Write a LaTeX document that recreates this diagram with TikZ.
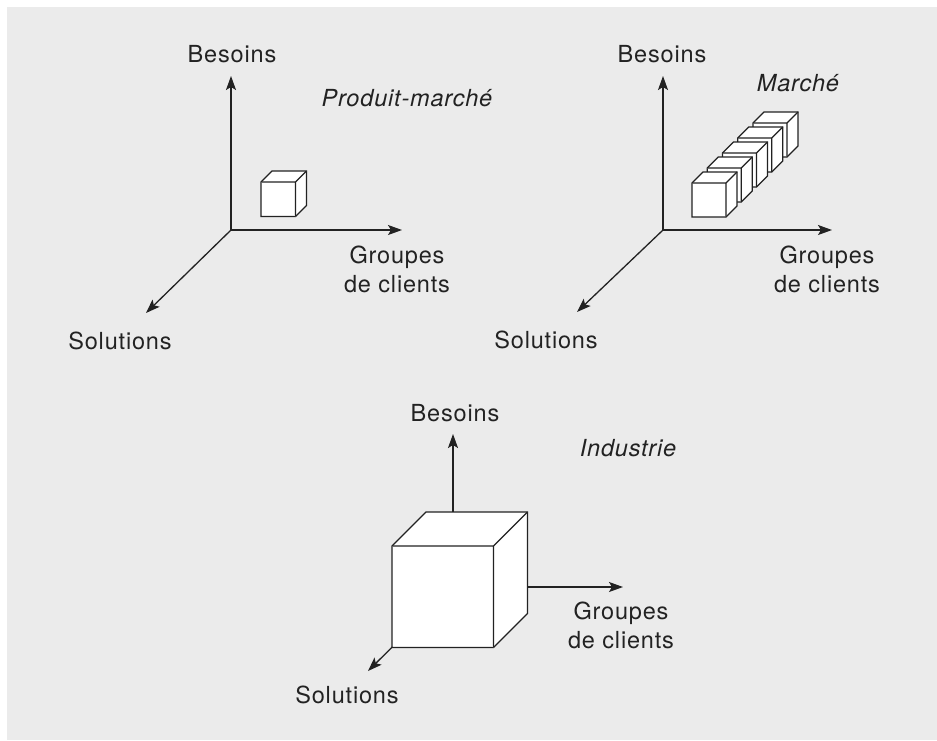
\documentclass[tikz,border=0pt]{standalone}
\usepackage{fontspec}
\setmainfont{TeX Gyre Heros}[LetterSpace=3.5]
\usetikzlibrary{arrows.meta,calc}
\definecolor{bggray}{HTML}{EBEBEB}
\definecolor{ink}{HTML}{222222}
\newcommand{\mycube}[5]{% name, x, y, size, depth
  \coordinate (#1A) at (#2,#3);
  \coordinate (#1B) at ($(#1A)+(#4,0)$);
  \coordinate (#1C) at ($(#1A)+(#4,#4)$);
  \coordinate (#1D) at ($(#1A)+(0,#4)$);
  \coordinate (#1Ab) at ($(#1A)+(#5,-#5)$);
  \coordinate (#1Bb) at ($(#1B)+(#5,-#5)$);
  \coordinate (#1Cb) at ($(#1C)+(#5,-#5)$);
  \filldraw[cubeline] (#1A) -- (#1Ab) -- (#1Bb) -- (#1Cb) -- (#1C) -- (#1D) -- cycle;
  \draw[cubeline] (#1A) -- (#1B) -- (#1C) (#1B) -- (#1Bb);
}
\begin{document}
\begin{tikzpicture}[x=1pt,y=-1pt,
  axis/.style={draw=ink,line width=1.3pt,-{Stealth[length=14pt,width=10pt,inset=3pt]}},
  cubeline/.style={draw=ink,fill=white,line width=1.3pt,line join=miter},
  lab/.style={inner sep=0pt,anchor=base,text=ink,font=\fontsize{23.5}{28.5}\selectfont,align=center},
  ital/.style={lab,font=\fontsize{23.5}{28.5}\selectfont\itshape}]
\useasboundingbox (0,0) rectangle (937,740);
\fill[bggray] (7,7) rectangle (937,740);

% ---------- Panel 1 : Produit-marche ----------
\coordinate (O1) at (231,230);
\coordinate (B1) at (231,76);
\coordinate (G1) at (402,230);
\coordinate (S1) at (146,313);
\draw[axis] (O1) -- (B1);
\draw[axis] (O1) -- (G1);
\draw[axis] (O1) -- (S1);
\mycube{pa}{261}{182}{34.5}{11}
\node[lab] (lb1) at (232,62) {Besoins};
\node[ital] (lt1) at (407,106) {Produit-marché};
\node[lab] (lg1) at (397,292) {Groupes\\de clients};
\node[lab] (ls1) at (120,349) {Solutions};

% ---------- Panel 2 : Marche ----------
\coordinate (O2) at (663,230);
\coordinate (B2) at (663,76);
\coordinate (G2) at (832,230);
\coordinate (S2) at (577,312);
\draw[axis] (O2) -- (B2);
\draw[axis] (O2) -- (G2);
\draw[axis] (O2) -- (S2);
\mycube{ma}{753}{123}{34}{11}
\mycube{mb}{737.75}{138}{34}{11}
\mycube{mc}{722.5}{153}{34}{11}
\mycube{md}{707.25}{168}{34}{11}
\mycube{me}{692}{183}{34}{11}
\node[lab] (lb2) at (662,62) {Besoins};
\node[ital] (lt2) at (798,91) {Marché};
\node[lab] (lg2) at (827,292) {Groupes\\de clients};
\node[lab] (ls2) at (546,348) {Solutions};

% ---------- Panel 3 : Industrie ----------
\coordinate (O3) at (453,587);
\coordinate (B3) at (453,434);
\coordinate (G3) at (623,587);
\coordinate (S3) at (368,671);
\draw[axis] (O3) -- (B3);
\draw[axis] (O3) -- (G3);
\draw[axis] (O3) -- (S3);
\mycube{ia}{392}{546}{101.5}{34}
\node[lab] (lb3) at (455,421) {Besoins};
\node[ital] (lt3) at (628,456) {Industrie};
\node[lab] (lg3) at (621,648) {Groupes\\de clients};
\node[lab] (ls3) at (347,703) {Solutions};
\end{tikzpicture}
\end{document}
